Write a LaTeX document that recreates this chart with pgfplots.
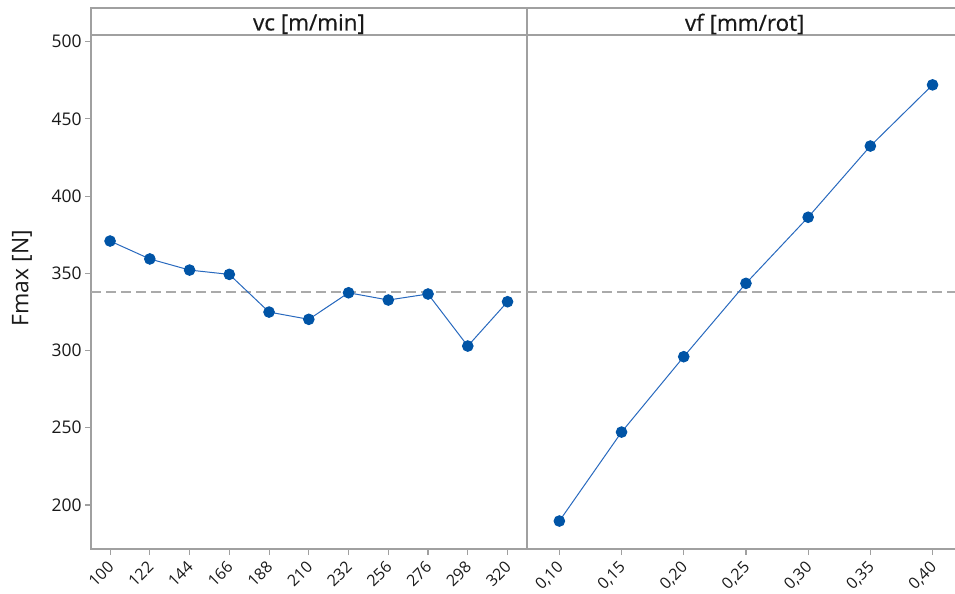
\documentclass[border=0pt]{standalone}
\usepackage{fontspec}
\setmainfont{Open Sans}
\newfontfamily\headfont{Open Sans}[FakeBold=0.5]
\usepackage{pgfplots}
\pgfplotsset{compat=1.18}
\definecolor{axgray}{RGB}{160,160,160}
\definecolor{mk}{RGB}{0,84,166}
\definecolor{ln}{RGB}{40,105,190}
\definecolor{dashc}{RGB}{170,170,170}
\definecolor{txt}{RGB}{25,25,25}
\pgfplotsset{
  panel/.style={
    scale only axis, height=514bp,
    ymin=171.5, ymax=504.3,
    axis line style={axgray, line width=1.3bp},
    every tick/.style={axgray, line width=1.1bp},
    tick align=outside, major tick length=6bp,
    xtick pos=bottom, ytick pos=left,
    /pgf/number format/assume math mode=true,
    tick label style={font=\fontsize{17.5}{20}\selectfont, text=txt},
    xticklabel style={rotate=45, anchor=north east, font=\fontsize{16}{18}\selectfont, inner sep=1bp, xshift=-5bp, yshift=0bp},
    title style={at={(0.5,1)}, anchor=center, yshift=5bp, font=\headfont\fontsize{22.5}{26}\selectfont, text=txt},
  },
  dataline/.style={ln, line width=1bp, mark=*, mark size=5.3bp, mark options={draw=mk, fill=mk, solid}},
  meanline/.style={dashc, line width=1.4bp, dash pattern=on 10bp off 5bp, mark=none},
}
\begin{document}
\begin{tikzpicture}
\useasboundingbox (0,0) rectangle (955bp,594bp);
\clip (0,0) rectangle (955bp,594bp);
\begin{axis}[panel, name=L, at={(91bp,45bp)}, anchor=south west,
  width=436bp, xmin=-0.48, xmax=10.49,
  xtick={0,...,10}, xticklabels={100,122,144,166,188,210,232,256,276,298,320},
  ytick={200,250,...,500},
  title={vc [m/min]},
  ylabel={Fmax [N]},
  ylabel style={at={(axis description cs:-0.1583,0.527)}, anchor=center, font=\fontsize{23}{27}\selectfont, text=txt},
]
\addplot[meanline] coordinates {(-0.48,338) (10.49,338)};
\addplot[dataline] coordinates {
(0,370.9) (1,359.3) (2,352.1) (3,349.3) (4,324.9) (5,320.2)
(6,337.4) (7,332.7) (8,336.6) (9,302.9) (10,331.6)};
\end{axis}
\begin{axis}[panel, name=R, at={(527bp,45bp)}, anchor=south west,
  width=435.4bp, xmin=-0.52, xmax=6.48,
  xtick={0,...,6}, xticklabels={{0,10},{0,15},{0,20},{0,25},{0,30},{0,35},{0,40}},
  ytick=\empty,
  title={vf [mm/rot]},
]
\addplot[meanline] coordinates {(-0.52,338) (6.48,338)};
\addplot[dataline] coordinates {
(0,189.6) (1,247.2) (2,296.0) (3,343.5) (4,386.3) (5,432.4) (6,472.0)};
\end{axis}
\draw[axgray, line width=1.3bp] (L.north west) -- ++(0,27bp) -- ([yshift=27bp]R.north east);
\draw[axgray, line width=1.3bp] (L.north east) -- ++(0,27bp);
\end{tikzpicture}
\end{document}
